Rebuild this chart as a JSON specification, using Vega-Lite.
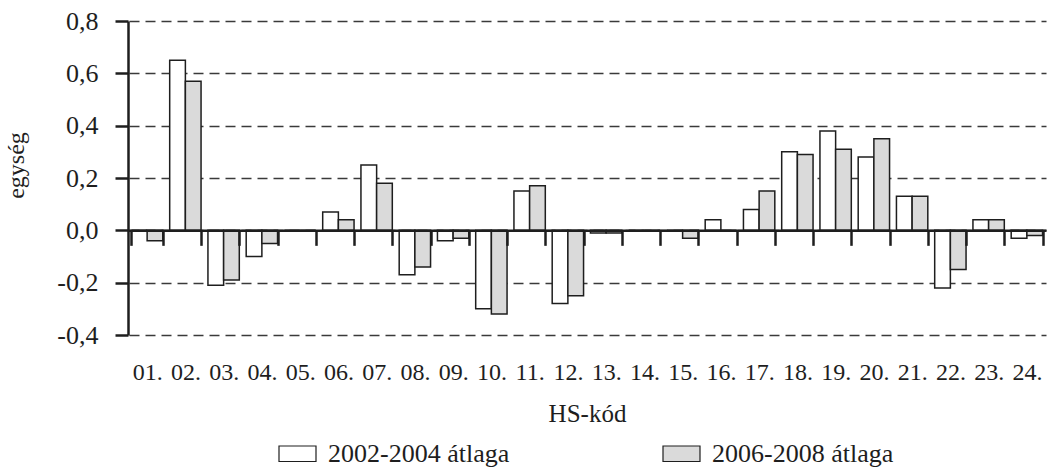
{
  "$schema": "https://vega.github.io/schema/vega-lite/v6.json",
  "width": 918,
  "height": 314,
  "autosize": {"type": "none"},
  "padding": {"left": 128, "top": 21, "right": 2, "bottom": 137},
  "background": "white",
  "data": {
    "values": [
      {"hs": "01.", "series": "2002-2004 átlaga", "v": 0},
      {"hs": "01.", "series": "2006-2008 átlaga", "v": -0.04},
      {"hs": "02.", "series": "2002-2004 átlaga", "v": 0.65},
      {"hs": "02.", "series": "2006-2008 átlaga", "v": 0.57},
      {"hs": "03.", "series": "2002-2004 átlaga", "v": -0.21},
      {"hs": "03.", "series": "2006-2008 átlaga", "v": -0.19},
      {"hs": "04.", "series": "2002-2004 átlaga", "v": -0.10},
      {"hs": "04.", "series": "2006-2008 átlaga", "v": -0.05},
      {"hs": "05.", "series": "2002-2004 átlaga", "v": 0},
      {"hs": "05.", "series": "2006-2008 átlaga", "v": 0},
      {"hs": "06.", "series": "2002-2004 átlaga", "v": 0.07},
      {"hs": "06.", "series": "2006-2008 átlaga", "v": 0.04},
      {"hs": "07.", "series": "2002-2004 átlaga", "v": 0.25},
      {"hs": "07.", "series": "2006-2008 átlaga", "v": 0.18},
      {"hs": "08.", "series": "2002-2004 átlaga", "v": -0.17},
      {"hs": "08.", "series": "2006-2008 átlaga", "v": -0.14},
      {"hs": "09.", "series": "2002-2004 átlaga", "v": -0.04},
      {"hs": "09.", "series": "2006-2008 átlaga", "v": -0.03},
      {"hs": "10.", "series": "2002-2004 átlaga", "v": -0.30},
      {"hs": "10.", "series": "2006-2008 átlaga", "v": -0.32},
      {"hs": "11.", "series": "2002-2004 átlaga", "v": 0.15},
      {"hs": "11.", "series": "2006-2008 átlaga", "v": 0.17},
      {"hs": "12.", "series": "2002-2004 átlaga", "v": -0.28},
      {"hs": "12.", "series": "2006-2008 átlaga", "v": -0.25},
      {"hs": "13.", "series": "2002-2004 átlaga", "v": -0.01},
      {"hs": "13.", "series": "2006-2008 átlaga", "v": -0.01},
      {"hs": "14.", "series": "2002-2004 átlaga", "v": 0},
      {"hs": "14.", "series": "2006-2008 átlaga", "v": 0},
      {"hs": "15.", "series": "2002-2004 átlaga", "v": 0},
      {"hs": "15.", "series": "2006-2008 átlaga", "v": -0.03},
      {"hs": "16.", "series": "2002-2004 átlaga", "v": 0.04},
      {"hs": "16.", "series": "2006-2008 átlaga", "v": 0},
      {"hs": "17.", "series": "2002-2004 átlaga", "v": 0.08},
      {"hs": "17.", "series": "2006-2008 átlaga", "v": 0.15},
      {"hs": "18.", "series": "2002-2004 átlaga", "v": 0.30},
      {"hs": "18.", "series": "2006-2008 átlaga", "v": 0.29},
      {"hs": "19.", "series": "2002-2004 átlaga", "v": 0.38},
      {"hs": "19.", "series": "2006-2008 átlaga", "v": 0.31},
      {"hs": "20.", "series": "2002-2004 átlaga", "v": 0.28},
      {"hs": "20.", "series": "2006-2008 átlaga", "v": 0.35},
      {"hs": "21.", "series": "2002-2004 átlaga", "v": 0.13},
      {"hs": "21.", "series": "2006-2008 átlaga", "v": 0.13},
      {"hs": "22.", "series": "2002-2004 átlaga", "v": -0.22},
      {"hs": "22.", "series": "2006-2008 átlaga", "v": -0.15},
      {"hs": "23.", "series": "2002-2004 átlaga", "v": 0.04},
      {"hs": "23.", "series": "2006-2008 átlaga", "v": 0.04},
      {"hs": "24.", "series": "2002-2004 átlaga", "v": -0.03},
      {"hs": "24.", "series": "2006-2008 átlaga", "v": -0.02}
    ]
  },
  "mark": {"type": "bar", "stroke": "#1e1e1e", "strokeWidth": 1.5},
  "encoding": {
    "x": {
      "field": "hs",
      "type": "nominal",
      "sort": null,
      "scale": {"paddingInner": 0.18, "paddingOuter": 0.09},
      "axis": {
        "title": "HS-kód",
        "orient": "bottom",
        "offset": -104.67,
        "labelAngle": 0,
        "labelFontSize": 24,
        "labelPadding": 115,
        "tickBand": "extent",
        "tickSize": 15,
        "tickWidth": 2.5,
        "tickColor": "#1e1e1e",
        "domainColor": "#1e1e1e",
        "domainWidth": 2.5,
        "grid": false,
        "titleFontSize": 25,
        "titlePadding": 17,
        "zindex": 1
      }
    },
    "xOffset": {"field": "series", "sort": null, "scale": {"paddingInner": 0, "paddingOuter": 0}},
    "y": {
      "field": "v",
      "type": "quantitative",
      "scale": {"domain": [-0.4, 0.8], "nice": false, "zero": false},
      "axis": {
        "title": "egység",
        "values": [-0.4, -0.2, 0, 0.2, 0.4, 0.6, 0.8],
        "labelExpr": "replace(replace(format(datum.value, '.1f'), '.', ','), '\u2212', '-')",
        "labelFontSize": 26,
        "labelPadding": 17,
        "tickSize": 13,
        "tickWidth": 2.5,
        "tickColor": "#1e1e1e",
        "domainColor": "#1e1e1e",
        "domainWidth": 2.5,
        "grid": true,
        "gridDash": [10, 6],
        "gridDashOffset": 15,
        "gridColor": "#3a3a3a",
        "gridWidth": 1.5,
        "titleFontSize": 24,
        "titleAngle": -90,
        "titleX": -105,
        "titleY": 144,
        "titleAlign": "center",
        "titleBaseline": "alphabetic"
      }
    },
    "fill": {
      "field": "series",
      "type": "nominal",
      "sort": null,
      "scale": {"range": ["#ffffff", "#dadada"]},
      "legend": {
        "title": null,
        "orient": "none",
        "legendX": 150,
        "legendY": 413,
        "direction": "horizontal",
        "columns": 2,
        "columnPadding": 150,
        "symbolType": "M-1,-0.42H1V0.42H-1Z",
        "symbolSize": 1369,
        "symbolStrokeColor": "#1e1e1e",
        "symbolStrokeWidth": 1.2,
        "labelFontSize": 26,
        "labelOffset": 11,
        "labelLimit": 400
      }
    }
  },
  "config": {
    "font": "Liberation Serif",
    "view": {"stroke": null},
    "axis": {"labelColor": "#1e1e1e", "titleColor": "#1e1e1e", "titleFontWeight": "normal", "labelFont": "Liberation Serif", "titleFont": "Liberation Serif"},
    "legend": {"labelColor": "#1e1e1e", "labelFont": "Liberation Serif"}
  }
}
